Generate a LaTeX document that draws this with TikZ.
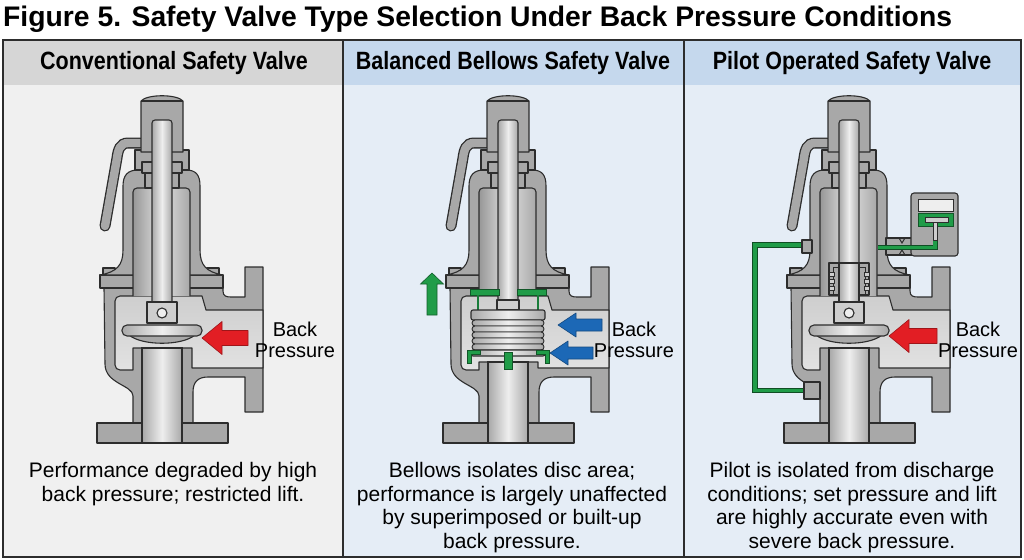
\documentclass[tikz,border=0pt]{standalone}
\usepackage{fontspec}
\setmainfont{Liberation Sans}
\newfontfamily\narrowfont{Liberation Sans}[FakeStretch=0.86]
\usetikzlibrary{positioning, calc}

\definecolor{metal}{RGB}{168,168,168}
\definecolor{metallight}{RGB}{206,206,206}
\definecolor{metalhi}{RGB}{238,238,238}
\definecolor{edge}{RGB}{45,45,45}
\definecolor{panelgray}{RGB}{240,240,240}
\definecolor{headgray}{RGB}{214,214,214}
\definecolor{panelblue}{RGB}{229,237,246}
\definecolor{headblue}{RGB}{197,216,237}
\definecolor{bpred}{RGB}{226,30,36}
\definecolor{bpblue}{RGB}{28,104,182}
\definecolor{bpgreen}{RGB}{32,156,72}

\tikzset{
  part/.style={fill=metal, draw=edge, line width=1.1pt, line join=round},
  cavity/.style={draw=edge, line width=1.1pt, line join=round, top color=metallight, bottom color=metallight!60!white},
  rod/.style={draw=edge, line width=1.1pt, left color=metal, right color=metal, middle color=metalhi},
  greenpart/.style={fill=bpgreen, draw=bpgreen!55!black, line width=0.8pt},
  headtext/.style={font=\narrowfont\bfseries\fontsize{25}{28}\selectfont, inner sep=0pt},
  notetext/.style={font=\fontsize{21}{23.4}\selectfont, align=center, inner sep=0pt, anchor=north},
  bplabel/.style={font=\fontsize{20}{21}\selectfont, align=center, inner sep=0pt}
}

% arrow shape: colour, tip x, tip y, head length, head half height, shaft half height, tail x
\newcommand{\backarrow}[7]{%
  \filldraw[fill=#1, draw=#1!70!black, line width=0.6pt, line join=round]
    (#2,#3) -- ++(#4,-#5) -- ++(0,#5-#6) -- (#7,#3-#6) -- (#7,#3+#6)
    -- (#2+#4,#3+#6) -- ++(0,#5-#6) -- cycle;}

% common valve parts, local coordinates, #1 = nozzle top, #2 = stem bottom
\newcommand{\valvebody}[2]{%
  % lever
  \draw[edge, line width=11pt, line cap=round] (-22,143) -- (-34,143) .. controls (-42,143) and (-44,150) .. (-45,158) -- (-57,226);
  \draw[metal, line width=8.4pt, line cap=round] (-22,143) -- (-34,143) .. controls (-42,143) and (-44,150) .. (-45,158) -- (-57,226);
  % body
  \draw[part] (-58,288) -- (61,288) -- (61,291) .. controls (61,296) and (64,297) .. (69,297)
    -- (83,297) -- (83,267) -- (101,267) -- (101,412) -- (83,412) -- (83,377) -- (46,377)
    .. controls (36,377) and (31,382) .. (31,392) -- (31,423) -- (-29,423) -- (-29,396)
    .. controls (-29,385) and (-57,384) .. (-57,364) -- cycle;
  \draw[part] (-65,423) rectangle (66,443);
  \draw[cavity] (-47,301) [rounded corners=5pt] -- (-47,370) [sharp corners] -- (-29,370) -- (-29,#1)
    -- (30,#1) -- (30,368) -- (101,368) -- (101,310) -- (44,310) -- (40,296) [rounded corners=5pt] -- (-47,296) [sharp corners] -- cycle;
  \draw[rod] (-20,#1) rectangle (20,443);
  % bonnet
  \draw[part] (-62,275) rectangle (61,288);
  \draw[part] (-59,268) rectangle (-47,275);
  \draw[part] (45,268) rectangle (57,275);
  \draw[part] (-62,275) .. controls (-45,272) and (-39,265) .. (-39,250) -- (-39,186)
    .. controls (-39,175) and (-34,170) .. (-24,170) -- (24,170) .. controls (34,170) and (38,175) .. (38,186)
    -- (38,250) .. controls (38,265) and (44,272) .. (61,275) -- cycle;
  \draw[rod, left color=metal!90!black, middle color=metallight!60!white, rounded corners=4pt] (-29,296) -- (-29,188) -- (28,188) -- (28,296);
  % cap
  \draw[part] (-27,150) rectangle (27,170);
  \draw[part] (-21,152) -- (-21,101) .. controls (-15,94) and (15,94) .. (21,101) -- (21,152) -- cycle;
  \draw[edge, line width=1.1pt] (-21,101) -- (21,101);
  \draw[part] (-20,162) rectangle (20,173);
  \draw[part] (-17,173) rectangle (17,188);
  % stem
  \draw[rod, rounded corners=3pt] (-10,#2) -- (-10,120) -- (10,120) -- (10,#2);
}

% disc and holder
\newcommand{\valvedisc}{%
  \draw[part, fill=metallight] (-15,302) rectangle (15,323);
  \draw[part, fill=metalhi] (0,313) circle (5);
  \draw[part] (-33,335) .. controls (-20,346) and (20,346) .. (33,335) -- cycle;
  \draw[rod, rounded corners=5pt] (-40,325) rectangle (40,336);
}

\begin{document}
\begin{tikzpicture}[x=1pt, y=-1pt]
\useasboundingbox (0,0) rectangle (1024,559);
\fill[white] (0,0) rectangle (1024,559);

% title
\node[font=\bfseries\fontsize{28.3}{30}\selectfont, anchor=base west, inner sep=0pt] (title) at (3,27) {Figure 5. Safety Valve Type Selection Under Back Pressure Conditions};

% panels
\fill[panelgray] (3,40) rectangle (343,557);
\fill[panelblue] (343,40) rectangle (1021,557);
\fill[headgray] (3,40) rectangle (343,85);
\fill[headblue] (343,40) rectangle (1021,85);
\draw[edge, line width=1.6pt] (3,40) rectangle (1021,557);
\draw[edge, line width=1.6pt] (343,40) -- (343,557);
\draw[edge, line width=1.6pt] (684,40) -- (684,557);

\node[headtext] (head1) at (174,63) {Conventional Safety Valve};
\node[headtext] (head2) at (513,63) {Balanced Bellows Safety Valve};
\node[headtext] (head3) at (852,63) {Pilot Operated Safety Valve};

% conventional valve
\begin{scope}[shift={(162,0)}]
  \valvebody{348}{303}
  \valvedisc
  \backarrow{bpred}{40}{338}{20}{16.5}{7.5}{86}
  \node[bplabel] (bp1) at (133,340) {Back\\Pressure};
\end{scope}

% balanced bellows valve
\begin{scope}[shift={(508,0)}]
  \valvebody{362}{300}
  \draw[greenpart] (-38,289) rectangle (-9,295);
  \draw[greenpart] (9,289) rectangle (38,295);
  \draw[bpgreen!80!black, line width=2pt] (-30,295) -- (-30,310);
  \draw[bpgreen!80!black, line width=2pt] (30,295) -- (30,310);
  \draw[part, fill=metallight] (-11,300) rectangle (11,310);
  \draw[rod, rounded corners=2pt] (-37,310) rectangle (37,320);
  \foreach \i in {0,...,4}
    \draw[rod, line width=0.9pt, rounded corners=3pt] (-36,320+6*\i) rectangle (36,326+6*\i);
  \draw[rod, rounded corners=2pt] (-37,350) rectangle (37,356);
  \draw[greenpart] (-41,350) -- (-28,350) -- (-28,354) -- (-37,354) -- (-37,363) -- (-41,363) -- cycle;
  \draw[greenpart] (41,350) -- (28,350) -- (28,354) -- (37,354) -- (37,363) -- (41,363) -- cycle;
  \draw[greenpart] (-4,352) rectangle (4,369);
  % vent arrow
  \filldraw[fill=bpgreen, draw=bpgreen!60!black, line width=0.6pt] (-76,273) -- (-64.5,284) -- (-71,284) -- (-71,315) -- (-81,315) -- (-81,284) -- (-87.5,284) -- cycle;
  \backarrow{bpblue}{50}{325}{18}{12}{6}{94}
  \backarrow{bpblue}{42}{353}{18}{12}{6}{85}
  \node[bplabel] (bp2) at (126,340) {Back\\Pressure};
\end{scope}

% pilot operated valve
\begin{scope}[shift={(849,0)}]
  % sensing line
  \draw[bpgreen!50!black, line width=5.2pt] (-31,245) -- (-94,245) -- (-94,390.5) -- (-20,390.5);
  \draw[bpgreen, line width=3.4pt] (-31,245) -- (-94,245) -- (-94,390.5) -- (-20,390.5);
  \valvebody{348}{303}
  \draw[part] (-45,382) rectangle (-29,399);
  \draw[part] (-47,240) rectangle (-37,253);
  % piston guide
  \draw[part] (-20,263) rectangle (20,295);
  \draw[edge, line width=0.9pt] (-16,295) -- (-16,267) -- (16,267) -- (16,295);
  \foreach \yy in {272,279,286}
  {
    \draw[part, fill=metallight, line width=0.8pt] (-20,\yy) rectangle (-15,\yy+4);
    \draw[part, fill=metallight, line width=0.8pt] (15,\yy) rectangle (20,\yy+4);
  }
  \draw[rod] (-10,263) rectangle (10,303);
  \valvedisc
  % pilot
  \draw[part] (37,238) rectangle (64,255);
  \draw[edge, line width=1pt] (50,238) -- (53,243) -- (56,238);
  \draw[edge, line width=1pt] (50,255) -- (53,250) -- (56,255);
  \draw[part, rounded corners=3pt] (62,193) rectangle (109,256);
  \draw[edge, fill=metalhi, line width=1pt] (69,199) rectangle (104,211);
  \draw[bpgreen!50!black, line width=5pt] (29,247.5) -- (86,247.5) -- (86,224);
  \draw[bpgreen, line width=3.2pt] (29,247.5) -- (86,247.5) -- (86,224);
  \draw[greenpart] (69,213) rectangle (104,226);
  \draw[part, fill=metallight, line width=0.8pt] (76,217) rectangle (99,222);
  \draw[part, fill=metallight, line width=0.8pt] (84,222) rectangle (88,240);
  \backarrow{bpred}{40}{336}{20}{16.5}{7.5}{88}
  \node[bplabel] (bp3) at (129,340) {Back\\Pressure};
\end{scope}

% notes
\node[notetext] (note1) at (173,462.5) {Performance degraded by high\\back pressure; restricted lift.};
\node[notetext] (note2) at (512,462.5) {Bellows isolates disc area;\\performance is largely unaffected\\by superimposed or built-up\\back pressure.};
\node[notetext] (note3) at (852,462.5) {Pilot is isolated from discharge\\conditions; set pressure and lift\\are highly accurate even with\\severe back pressure.};
\end{tikzpicture}
\end{document}
